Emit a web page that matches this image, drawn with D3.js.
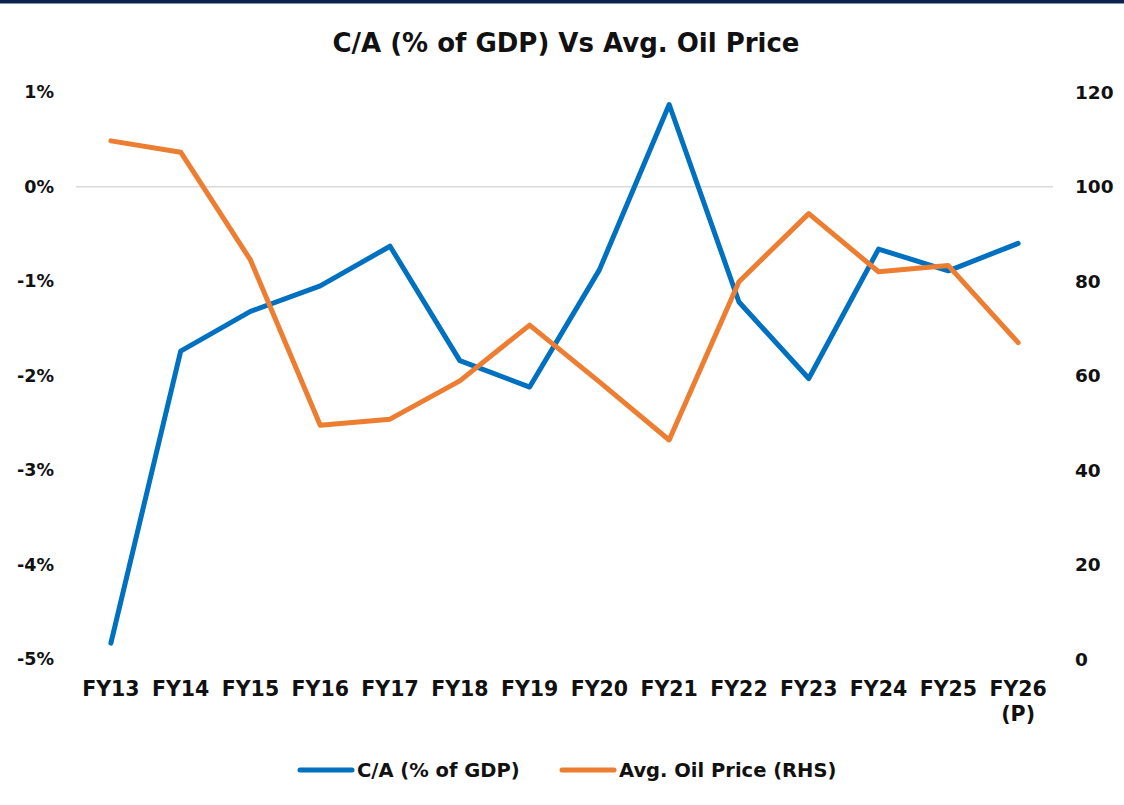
<!DOCTYPE html>
<html>
<head>
<meta charset="utf-8">
<script src="https://cdn.jsdelivr.net/npm/d3@7"></script>
<style>
    body { margin: 0; background: #fff; }
    svg text { font-family: "DejaVu Sans", Verdana, sans-serif; font-weight: bold; fill: #111; }
    .axis .domain { display: none; }
</style>
</head>
<body>
<div id="chart"></div>
<script>
// -- data
const categories = ["FY13", "FY14", "FY15", "FY16", "FY17", "FY18", "FY19",
    "FY20", "FY21", "FY22", "FY23", "FY24", "FY25", "FY26 (P)"];
const caGdp = [-4.83, -1.74, -1.32, -1.05, -0.63, -1.84, -2.12,
    -0.88, 0.87, -1.22, -2.03, -0.66, -0.89, -0.60];
const oilPrice = [109.7, 107.3, 84.5, 49.5, 50.8, 58.9, 70.7,
    58.7, 46.4, 79.9, 94.3, 82.0, 83.3, 67.0];
const leftTicks = [-5, -4, -3, -2, -1, 0, 1];
const rightTicks = [0, 20, 40, 60, 80, 100, 120];
const seriesNames = ["C/A (% of GDP)", "Avg. Oil Price (RHS)"];

const W = 1124, H = 805;
const plot = { left: 76, right: 1053, top: 92.2, bottom: 659.2 };
const blue = "#0070C0", orange = "#ED7D31";

const svg = d3.select("#chart").append("svg")
    .attr("width", W)
    .attr("height", H);

svg.append("rect").attr("width", W).attr("height", H).attr("fill", "#fff");
// dark strip along the top edge
svg.append("rect").attr("x", 0).attr("y", 0).attr("width", W).attr("height", 3.5).attr("fill", "#0c2350");

const x = d3.scaleBand().domain(categories).range([plot.left, plot.right]).padding(0);
const cx = d => x(d) + x.bandwidth() / 2;
const yL = d3.scaleLinear().domain([-5, 1]).range([plot.bottom, plot.top]);
const yR = d3.scaleLinear().domain([0, 120]).range([plot.bottom, plot.top]);

svg.append("text")
    .attr("x", 566)
    .attr("y", 52)
    .attr("text-anchor", "middle")
    .style("font-size", "26px")
    .text("C/A (% of GDP) Vs Avg. Oil Price");

// only the zero line is drawn
svg.append("line")
    .attr("x1", plot.left).attr("x2", plot.right)
    .attr("y1", yL(0)).attr("y2", yL(0))
    .attr("stroke", "#d9d9d9")
    .attr("stroke-width", 1.5);

svg.append("g")
    .attr("class", "axis")
    .attr("transform", `translate(${plot.left},0)`)
    .call(d3.axisLeft(yL).tickValues(leftTicks).tickSize(0).tickPadding(22).tickFormat(d => d + "%"))
    .selectAll("text").style("font-size", "17.5px");

svg.append("g")
    .attr("class", "axis")
    .attr("transform", `translate(${plot.right},0)`)
    .call(d3.axisRight(yR).tickValues(rightTicks).tickSize(0).tickPadding(22))
    .selectAll("text").style("font-size", "18.5px");

const xAxis = svg.append("g")
    .attr("class", "axis")
    .attr("transform", `translate(0,${plot.bottom})`)
    .call(d3.axisBottom(x).tickSize(0).tickPadding(22));

xAxis.selectAll("text")
    .style("font-size", "20.5px")
    .each(function (d) {
        const t = d3.select(this);
        const parts = d.split(" ");
        if (parts.length < 2) return;
        t.text(null);
        parts.forEach((p, i) => {
            t.append("tspan").attr("x", 0).attr("dy", i === 0 ? "0.71em" : "1.25em").text(p);
        });
        t.attr("dy", null);
    });

const lineL = d3.line().x((d, i) => cx(categories[i])).y(d => yL(d));
const lineR = d3.line().x((d, i) => cx(categories[i])).y(d => yR(d));

svg.append("path")
    .datum(caGdp)
    .attr("d", lineL)
    .attr("fill", "none")
    .attr("stroke", blue)
    .attr("stroke-width", 5)
    .attr("stroke-linejoin", "round")
    .attr("stroke-linecap", "round");

svg.append("path")
    .datum(oilPrice)
    .attr("d", lineR)
    .attr("fill", "none")
    .attr("stroke", orange)
    .attr("stroke-width", 5)
    .attr("stroke-linejoin", "round")
    .attr("stroke-linecap", "round");

// -- legend
const legend = [
    { name: seriesNames[0], color: blue, x: 300 },
    { name: seriesNames[1], color: orange, x: 562 }
];
const lg = svg.append("g").selectAll("g")
    .data(legend)
    .enter().append("g")
    .attr("transform", d => `translate(${d.x},770)`);

lg.append("line")
    .attr("x1", 0).attr("x2", 52)
    .attr("stroke", d => d.color)
    .attr("stroke-width", 5)
    .attr("stroke-linecap", "round");

lg.append("text")
    .attr("x", 57)
    .attr("dy", "0.36em")
    .style("font-size", "19.5px")
    .text(d => d.name);
</script>
</body>
</html>
